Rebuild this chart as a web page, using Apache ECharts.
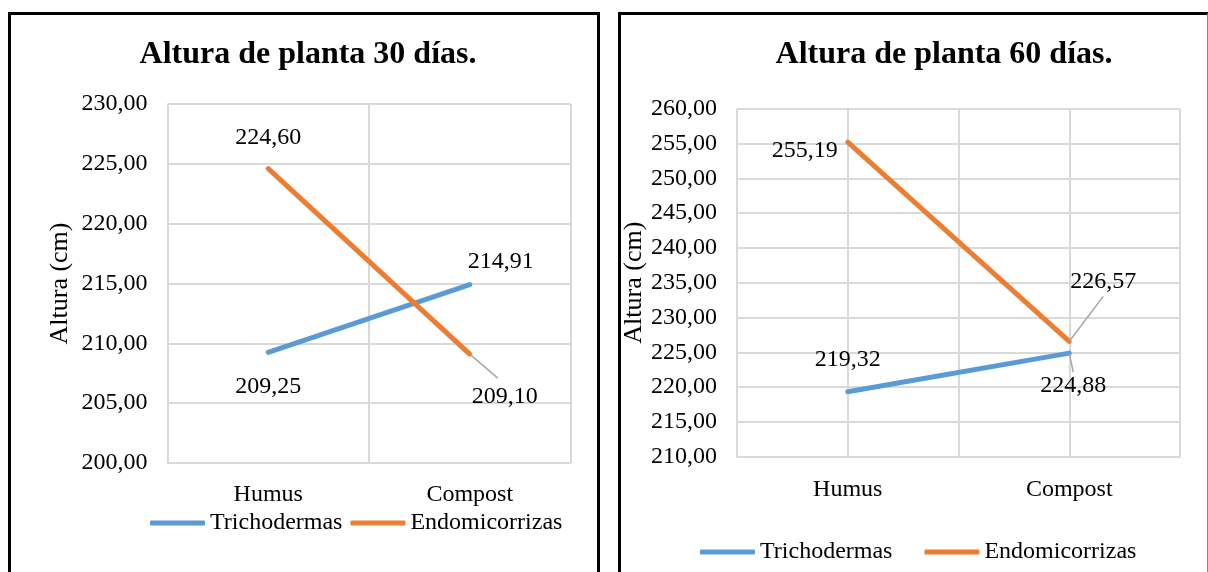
<!DOCTYPE html>
<html>
<head>
<meta charset="utf-8">
<script src="https://cdn.jsdelivr.net/npm/echarts@6/dist/echarts.min.js"></script>
<style>
  html, body { margin: 0; padding: 0; background: #fff; }
  #chart { position: absolute; left: 0; top: 0; width: 1208px; height: 572px; }
  .marco { position: absolute; box-sizing: border-box; pointer-events: none; }
</style>
</head>
<body>
<div id="chart"></div>
<div class="marco" style="left:8px;top:12px;width:592px;height:600px;border:3px solid #000;"></div>
<div class="marco" style="left:618px;top:12px;width:590px;height:600px;border-top:3px solid #000;border-left:3px solid #000;border-right:1px solid #888;"></div>
<script>
// datos
var categorias = ["Humus", "Compost"];
var series = ["Trichodermas", "Endomicorrizas"];
var titulos = ["Altura de planta 30 días.", "Altura de planta 60 días."];
var nombreEje = "Altura (cm)";

var tricho30 = [209.25, 214.91];
var endo30 = [224.60, 209.10];
var tricho60 = [219.32, 224.88];
var endo60 = [255.19, 226.57];

var ejeY30 = { min: 200, max: 230, step: 5 };
var ejeY60 = { min: 210, max: 260, step: 5 };

var azul = "#5B9BD5";
var naranja = "#ED7D31";
var gris = "#d9d9d9";
var fuente = "Liberation Serif, 'Times New Roman', serif";

// desplazamiento de etiquetas (centro del texto respecto al punto), por serie
var despl = [
  [[0, 34], [31, -23]],   // tricho 30
  [[0, -31], [35, 50]],   // endo 30
  [[0, -32], [4, 35]],    // tricho 60
  [[-43, 9], [34, -62]]   // endo 60
];
// etiquetas con linea guia: padding de la caja [arriba, derecha, abajo, izquierda]
var guias = [
  [null, null],
  [null, [14, 0, 0, 14]],
  [null, [4, 0, 0, 0]],
  [null, [0, 0, 5, 0]]
];

function fmt(v) {
  return v.toFixed(2).replace(".", ",");
}

function serie(nombre, valores, color, idx, grid) {
  return {
    name: nombre,
    type: "line",
    xAxisIndex: grid === 0 ? 0 : 1,
    yAxisIndex: grid,
    data: valores.map(function (v, i) {
      var g = guias[idx][i];
      if (!g) return v;
      // fondo transparente para que la caja incluya el padding
      return {
        value: v,
        label: { padding: g, backgroundColor: "rgba(255,255,255,0)" },
        labelLine: { show: true }
      };
    }),
    symbol: "circle",
    symbolSize: 1,
    lineStyle: { color: color, width: 5, cap: "round" },
    itemStyle: { color: color },
    label: {
      show: true,
      position: "inside",
      color: "#000",
      fontFamily: fuente,
      fontSize: 24,
      formatter: function (p) { return fmt(p.value); }
    },
    labelLine: { show: false, lineStyle: { color: "#a6a6a6", width: 1.5 } },
    labelLayout: function (p) {
      var d = despl[p.seriesIndex][p.dataIndex];
      var g = guias[p.seriesIndex][p.dataIndex] || [0, 0, 0, 0];
      return { dx: d[0] - (g[3] - g[1]) / 2, dy: d[1] - (g[0] - g[2]) / 2 };
    },
    emphasis: { disabled: true },
    z: idx % 2 === 0 ? 3 : 4
  };
}

function ejeY(cfg, grid, gap) {
  return {
    type: "value",
    gridIndex: grid,
    min: cfg.min,
    max: cfg.max,
    interval: cfg.step,
    name: nombreEje,
    nameLocation: "middle",
    nameGap: gap,
    nameTextStyle: { color: "#000", fontFamily: fuente, fontSize: 26 },
    axisLine: { show: false },
    axisTick: { show: false },
    axisLabel: {
      color: "#000",
      fontFamily: fuente,
      fontSize: 24,
      margin: 20,
      formatter: function (v) { return fmt(v); }
    },
    splitLine: { lineStyle: { color: gris, width: 2 } }
  };
}

function ejeX(grid, divisiones, margen) {
  return {
    type: "category",
    gridIndex: grid,
    data: categorias,
    boundaryGap: true,
    axisLine: { lineStyle: { color: gris, width: 2 } },
    axisTick: { show: false },
    axisLabel: { color: "#000", fontFamily: fuente, fontSize: 24, margin: margen },
    splitLine: { show: divisiones, lineStyle: { color: gris, width: 2 } }
  };
}

function leyenda(left, top, gap) {
  return {
    data: series, left: left, top: top, padding: 0,
    itemWidth: 55, itemHeight: 5, itemGap: gap,
    icon: "roundRect", selectedMode: false,
    textStyle: { fontFamily: fuente, fontSize: 24, color: "#000" }
  };
}

var chart = echarts.init(document.getElementById("chart"));
chart.setOption({
  backgroundColor: "#fff",
  animation: false,
  title: [
    {
      text: titulos[0], left: 303, top: 34, textAlign: "center",
      textStyle: { fontFamily: fuente, fontSize: 32, fontWeight: "bold", color: "#000" }
    },
    {
      text: titulos[1], left: 939, top: 34, textAlign: "center",
      textStyle: { fontFamily: fuente, fontSize: 32, fontWeight: "bold", color: "#000" }
    }
  ],
  legend: [leyenda(150, 511, 8), leyenda(700, 540, 32)],
  grid: [
    { left: 167.5, top: 104, width: 403, height: 359 },
    { left: 737, top: 108.7, width: 443, height: 348 }
  ],
  xAxis: [
    ejeX(0, true, 20),
    ejeX(1, false, 21),
    {
      // lineas verticales del segundo grafico (bordes y centros)
      type: "value", gridIndex: 1, position: "top", min: 0, max: 4, interval: 1,
      axisLine: { show: false }, axisTick: { show: false }, axisLabel: { show: false },
      splitLine: { lineStyle: { color: gris, width: 2 } }
    }
  ],
  yAxis: [ejeY(ejeY30, 0, 94), ejeY(ejeY60, 1, 77)],
  series: [
    serie(series[0], tricho30, azul, 0, 0),
    serie(series[1], endo30, naranja, 1, 0),
    serie(series[0], tricho60, azul, 2, 1),
    serie(series[1], endo60, naranja, 3, 1)
  ]
});
</script>
</body>
</html>
